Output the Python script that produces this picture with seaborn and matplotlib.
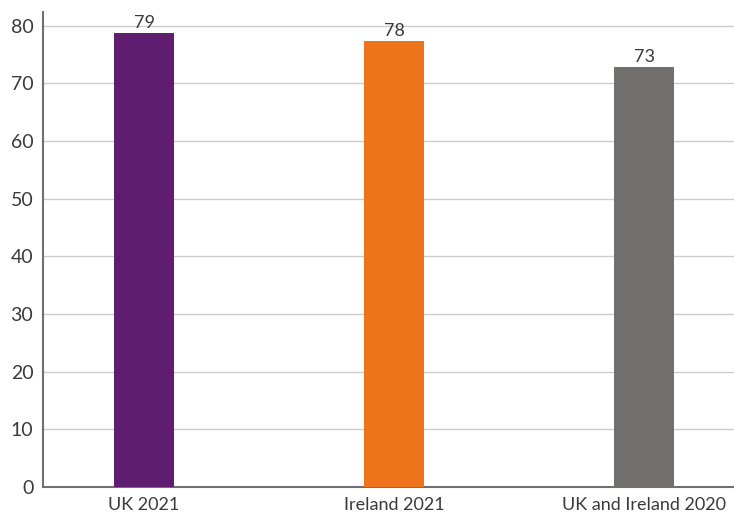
import matplotlib
matplotlib.use("Agg")
import matplotlib.pyplot as plt
import seaborn as sns
import pandas as pd

categories = ["UK 2021", "Ireland 2021", "UK and Ireland 2020"]
values = [78.8, 77.4, 72.9]
labels = ["79", "78", "73"]
colors = ["#601C6E", "#EE741C", "#72706F"]

sns.set_style("white")
plt.rcParams['font.family'] = ['Lato', 'DejaVu Sans']

df = pd.DataFrame({"cat": categories, "val": values})

fig = plt.figure(figsize=(7.34, 5.13), dpi=100)
ax = fig.add_axes([43/734, 1 - 487/513, (734 - 43)/734, (487 - 12)/513])

sns.barplot(data=df, x="cat", y="val", hue="cat", palette=colors, width=0.24,
            legend=False, ax=ax, saturation=1, zorder=3, linewidth=0)

for i, (v, l) in enumerate(zip(values, labels)):
    ax.text(i, v + 0.3, l, ha="center", va="bottom", fontsize=13, color="#3a3a3a")

ax.set_xlim(-0.404, 2.36)
ax.set_ylim(0, 82.4)
ax.set_yticks(range(0, 81, 10))
ax.yaxis.grid(True, color="#CCCCCC", linewidth=1)
ax.set_axisbelow(True)
ax.set_xlabel("")
ax.set_ylabel("")
ax.tick_params(axis="y", labelsize=14, colors="#3a3a3a", length=0, pad=7)
ax.tick_params(axis="x", labelsize=13, colors="#3a3a3a", length=0, pad=7)
for s in ["top", "right"]:
    ax.spines[s].set_visible(False)
ax.spines["left"].set_color("#707070")
ax.spines["left"].set_linewidth(1.5)
ax.spines["bottom"].set_color("#707070")
ax.spines["bottom"].set_linewidth(1.5)

fig.savefig("out.png", dpi=100)
